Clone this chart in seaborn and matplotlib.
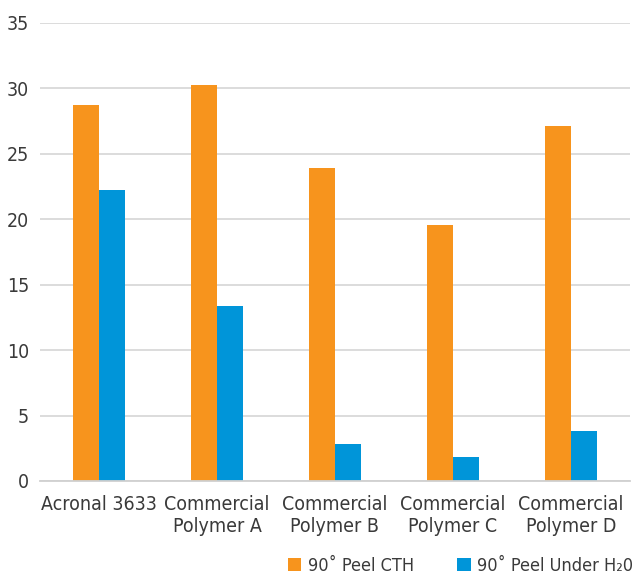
import matplotlib
matplotlib.use("Agg")
import matplotlib.pyplot as plt
import seaborn as sns
import pandas as pd

categories = ["Acronal 3633", "Commercial\nPolymer A", "Commercial\nPolymer B",
              "Commercial\nPolymer C", "Commercial\nPolymer D"]
series_names = ["90˚ Peel CTH", "90˚ Peel Under H₂0"]
peel_cth = [28.7, 30.3, 23.9, 19.6, 27.1]
peel_water = [22.2, 13.4, 2.8, 1.8, 3.8]
y_ticks = [0, 5, 10, 15, 20, 25, 30, 35]
colors = ["#F7941D", "#0095D9"]

df = pd.DataFrame({
    "cat": categories * 2,
    "series": [series_names[0]] * 5 + [series_names[1]] * 5,
    "val": peel_cth + peel_water,
})

sns.set_theme(style="white")
plt.rcParams['font.family'] = ['DejaVu Sans']
plt.rcParams['font.stretch'] = 'condensed'
txt = "#3a3a3a"

fig = plt.figure(figsize=(6.34, 5.78), dpi=100)
ax = fig.add_axes([40/634, 1-481/578, 590/634, 458/578])
sns.barplot(data=df, x="cat", y="val", hue="series", palette=colors,
            width=0.44, gap=0, saturation=1, ax=ax, legend=True, errorbar=None,
            linewidth=0)
ax.set_ylim(0, 35)
ax.set_xlim(-0.5, 4.5)
ax.set_yticks(y_ticks)
ax.set_yticklabels([str(t) for t in y_ticks])
ax.yaxis.grid(True, color="#d9d9d9", linewidth=1.3)
ax.set_axisbelow(True)
for s in ["top", "right", "left"]:
    ax.spines[s].set_visible(False)
ax.spines["bottom"].set_color("#d0d0d0")
ax.spines["bottom"].set_linewidth(1.3)
ax.tick_params(axis="both", length=0, labelsize=14, colors=txt)
ax.tick_params(axis="y", pad=8)
ax.tick_params(axis="x", pad=10)
ax.set_xlabel("")
ax.set_ylabel("")

handles, labels = ax.get_legend_handles_labels()
ax.legend_.remove()
fig.legend(handles, labels, loc="center right", ncol=2, frameon=False,
           bbox_to_anchor=(633/634, 1-566/578), fontsize=13,
           handlelength=0.75, handleheight=0.75, handletextpad=0.35,
           columnspacing=2.4, labelcolor=txt, borderaxespad=0, borderpad=0)

fig.savefig("out.png", dpi=100)
